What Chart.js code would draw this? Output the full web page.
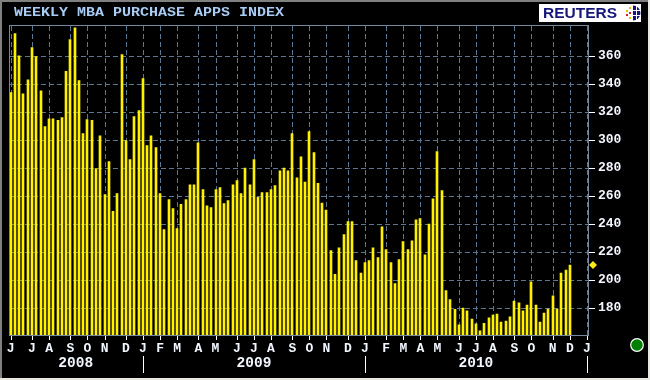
<!DOCTYPE html>
<html>
<head>
<meta charset="utf-8">
<style>
html, body { margin: 0; padding: 0; background: #000; }
#wrap { position: relative; width: 650px; height: 380px; }
</style>
<script src="https://cdn.jsdelivr.net/npm/chart.js@4"></script>
</head>
<body>
<div id="wrap"><canvas id="chart" width="650" height="380"></canvas></div>
<script>
var chartTitle = "WEEKLY MBA PURCHASE APPS INDEX";

var purchaseIndex = [
    333.8, 376, 360, 333, 343, 366, 359.5, 335, 309.5, 315,
    315, 314, 316, 349, 371.7, 380, 342.4, 304.5, 314.5, 314,
    279.5, 303, 261, 284.5, 249, 261.7, 361, 299.5, 286, 316.7,
    321, 343.8, 296, 303, 294.5, 261.7, 236, 257.4, 251, 236.7,
    254, 257.4, 268, 268, 298, 264.5, 253, 251.7, 264.5, 266,
    254.5, 256.7, 268, 271, 261.7, 280, 268, 286, 259, 262.4,
    262.4, 264.5, 267.4, 278, 280, 278, 304.5, 273, 288, 270,
    306, 291, 269, 255, 250, 221, 204, 223, 232.4, 241.7,
    241.7, 213.8, 205, 212.4, 213.8, 223, 216, 238, 221.7, 212.4,
    197.4, 214.5, 227.4, 221.7, 228, 243, 243.8, 218, 240, 258,
    291.7, 263.8, 192.4, 186, 179, 168, 180, 178, 172, 168.6,
    163.6, 169, 173, 175, 175.7, 170, 170.7, 173.6, 185, 183.6,
    178, 182, 198.6, 182, 170, 176.4, 179.3, 188.6, 179.3, 205,
    207, 210.7
];

// week number of the first bar of every month, and its letter
var monthWeeks = [0, 5, 9, 14, 18, 22, 27, 31, 35, 39, 44, 48, 53, 57, 61, 66, 70, 74, 79, 83, 88, 92, 96, 100, 105, 109, 113, 118, 122, 127, 131, 135];
var monthLetters = ["J", "J", "A", "S", "O", "N", "D", "J", "F", "M", "A", "M", "J", "J", "A", "S", "O", "N", "D", "J", "F", "M", "A", "M", "J", "J", "A", "S", "O", "N", "D", "J"];
var yearLabels = ["2008", "2009", "2010"];
var yearEndWeeks = [31, 83, 135];
var yTickValues = [180, 200, 220, 240, 260, 280, 300, 320, 340, 360];
var weekCount = 136;

var weekLabels = [];
for (var i = 0; i < weekCount; i++) {
    var m = monthWeeks.indexOf(i);
    weekLabels.push(m >= 0 ? monthLetters[m] : "");
}

var gridColor = "#5a7896";
var frameColor = "#7488a0";
var textColor = "#f2f6ff";

// the terminal draws bars on whole pixels
var snapBars = {
    id: "snapBars",
    beforeDatasetsDraw: function (chart) {
        chart.getDatasetMeta(0).data.forEach(function (bar) {
            bar.x = Math.round(bar.x);
        });
    }
};

// dashed grid goes behind the bars, the canvas is still transparent there
var dashedGrid = {
    id: "dashedGrid",
    afterDatasetsDraw: function (chart) {
        var ctx = chart.ctx;
        ctx.save();
        ctx.globalCompositeOperation = "destination-over";
        ctx.strokeStyle = gridColor;
        ctx.lineWidth = 1;
        ctx.setLineDash([5, 3]);
        ctx.beginPath();
        yTickValues.forEach(function (v) {
            var y = Math.round(chart.scales.y.getPixelForValue(v)) + 0.5;
            ctx.moveTo(9, y);
            ctx.lineTo(588, y);
        });
        monthWeeks.forEach(function (w) {
            var x = Math.round(chart.scales.x.getPixelForValue(w)) + 0.5;
            ctx.moveTo(x, 26);
            ctx.lineTo(x, 335);
        });
        ctx.stroke();
        ctx.restore();
    }
};

var decorations = {
    id: "decorations",
    afterDraw: function (chart) {
        var ctx = chart.ctx;
        var area = chart.chartArea;
        var xScale = chart.scales.x;
        var yScale = chart.scales.y;

        ctx.save();

        // plot frame
        ctx.strokeStyle = frameColor;
        ctx.lineWidth = 1;
        ctx.strokeRect(9.5, 25.5, 579, 310);

        // white tick marks
        ctx.strokeStyle = "#ffffff";
        ctx.beginPath();
        yTickValues.forEach(function (v) {
            var y = Math.round(yScale.getPixelForValue(v)) + 0.5;
            ctx.moveTo(589, y);
            ctx.lineTo(595, y);
        });
        monthWeeks.forEach(function (w) {
            var x = Math.round(xScale.getPixelForValue(w)) + 0.5;
            ctx.moveTo(x, 336);
            ctx.lineTo(x, 340);
        });
        ctx.stroke();

        // title, stretched sideways like the terminal font
        ctx.save();
        ctx.fillStyle = "#a8ccf4";
        ctx.font = "bold 12.5px 'Liberation Mono'";
        ctx.textAlign = "left";
        ctx.textBaseline = "middle";
        ctx.translate(14, 13);
        ctx.scale(1.2, 1);
        ctx.fillText(chartTitle, 0, 0);
        ctx.restore();

        // years and separators
        ctx.fillStyle = textColor;
        ctx.font = "bold 14.5px 'Liberation Mono'";
        ctx.textAlign = "center";
        ctx.textBaseline = "middle";
        var prev = area.left;
        yearLabels.forEach(function (year, n) {
            var end = xScale.getPixelForValue(yearEndWeeks[n]);
            ctx.fillText(year, (prev + end) / 2, 363);
            ctx.strokeStyle = "#ffffff";
            ctx.beginPath();
            ctx.moveTo(Math.round(end) + 0.5, 356);
            ctx.lineTo(Math.round(end) + 0.5, 373);
            ctx.stroke();
            prev = end;
        });

        // last value marker
        var lastY = yScale.getPixelForValue(purchaseIndex[purchaseIndex.length - 1]);
        ctx.fillStyle = "#ffe81a";
        ctx.beginPath();
        ctx.moveTo(589, lastY);
        ctx.lineTo(593, lastY - 4);
        ctx.lineTo(597, lastY);
        ctx.lineTo(593, lastY + 4);
        ctx.closePath();
        ctx.fill();

        // status light
        ctx.fillStyle = "#008000";
        ctx.strokeStyle = "#ffffff";
        ctx.lineWidth = 1.2;
        ctx.beginPath();
        ctx.arc(637, 345, 6.3, 0, Math.PI * 2);
        ctx.fill();
        ctx.stroke();

        // logo
        ctx.fillStyle = "#ffffff";
        ctx.fillRect(539, 4, 102, 18);
        ctx.fillStyle = "#16167a";
        ctx.font = "bold 15.5px 'Liberation Sans'";
        ctx.textAlign = "left";
        ctx.fillText("REUTERS", 543, 14);
        ctx.beginPath();
        ctx.arc(633, 13, 7.5, -Math.PI / 2, Math.PI / 2);
        ctx.closePath();
        ctx.fill();
        ctx.strokeStyle = "#ffffff";
        ctx.lineWidth = 1;
        ctx.beginPath();
        ctx.moveTo(633, 10.5); ctx.lineTo(641, 10.5);
        ctx.moveTo(633, 15.5); ctx.lineTo(641, 15.5);
        ctx.moveTo(636.5, 5); ctx.lineTo(636.5, 21);
        ctx.stroke();
        ctx.fillStyle = "#f0c000";
        ctx.fillRect(626, 10, 2, 2);
        ctx.fillRect(629, 7, 2, 2);
        ctx.fillRect(629, 17, 2, 2);
        ctx.fillStyle = "#d02020";
        ctx.fillRect(626, 14, 2, 2);
        ctx.fillRect(629, 12, 2, 2);

        // window edge
        ctx.fillStyle = "#808080";
        ctx.fillRect(0, 0, 650, 2);
        ctx.fillRect(0, 0, 2, 380);
        ctx.fillStyle = "#e8e8e0";
        ctx.fillRect(0, 378, 650, 2);
        ctx.fillRect(648, 0, 2, 380);

        ctx.restore();
    }
};

var ctxIndex = document.getElementById("chart").getContext("2d");
var chartIndex = new Chart(ctxIndex, {
    type: "bar",
    data: {
        labels: weekLabels,
        datasets: [{
            data: purchaseIndex,
            backgroundColor: "#fff000",
            barThickness: 2
        }]
    },
    options: {
        responsive: false,
        animation: false,
        layout: { padding: { left: 8.5, right: 0, top: 25, bottom: 0 } },
        plugins: { legend: { display: false }, tooltip: { enabled: false } },
        scales: {
            x: {
                offset: true,
                grid: { display: false, tickLength: 5, offset: false },
                border: { display: false },
                ticks: {
                    autoSkip: false,
                    maxRotation: 0,
                    minRotation: 0,
                    padding: 1,
                    color: textColor,
                    font: { family: "'Liberation Mono'", size: 13, weight: "bold" }
                },
                afterBuildTicks: function (axis) {
                    axis.ticks = monthWeeks.map(function (w) { return { value: w }; });
                },
                afterFit: function (axis) { axis.height = 45; }
            },
            y: {
                position: "right",
                min: 160.7,
                max: 382.1,
                grid: { display: false, tickLength: 6 },
                border: { display: false },
                ticks: {
                    padding: 3,
                    color: textColor,
                    font: { family: "'Liberation Mono'", size: 13, weight: "bold" }
                },
                afterBuildTicks: function (axis) {
                    axis.ticks = yTickValues.map(function (v) { return { value: v }; });
                },
                afterFit: function (axis) { axis.width = 61; }
            }
        }
    },
    plugins: [snapBars, dashedGrid, decorations]
});
</script>
</body>
</html>
